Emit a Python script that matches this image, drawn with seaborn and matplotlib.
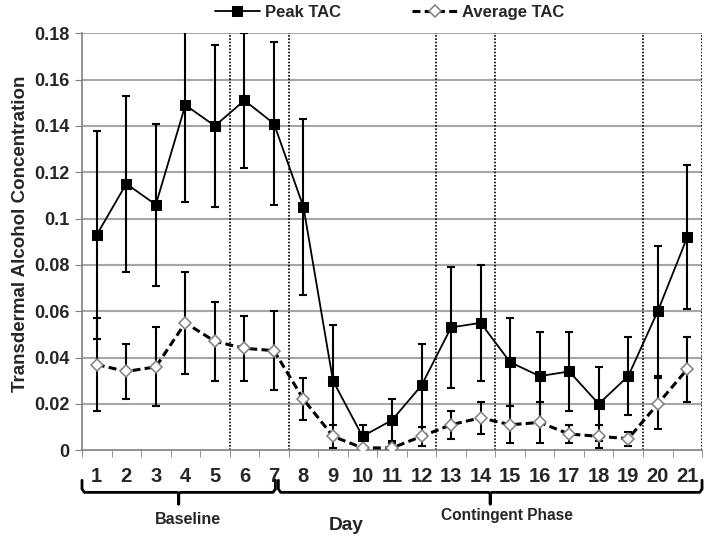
import matplotlib
matplotlib.use("Agg")
import matplotlib.pyplot as plt
import matplotlib.transforms as mtransforms
from matplotlib.ticker import FixedLocator, FuncFormatter
import numpy as np
import pandas as pd
import seaborn as sns

# Data
days = list(range(1, 22))
peak_tac = [0.093, 0.115, 0.106, 0.149, 0.140, 0.151, 0.141, 0.105, 0.030, 0.006, 0.013,
            0.028, 0.053, 0.055, 0.038, 0.032, 0.034, 0.020, 0.032, 0.060, 0.092]
peak_err = [0.045, 0.038, 0.035, 0.042, 0.035, 0.029, 0.035, 0.038, 0.024, 0.005, 0.009,
            0.018, 0.026, 0.025, 0.019, 0.019, 0.017, 0.016, 0.017, 0.028, 0.031]
avg_tac = [0.037, 0.034, 0.036, 0.055, 0.047, 0.044, 0.043, 0.022, 0.006, 0.001, 0.001,
           0.006, 0.011, 0.014, 0.011, 0.012, 0.007, 0.006, 0.005, 0.020, 0.035]
avg_err = [0.020, 0.012, 0.017, 0.022, 0.017, 0.014, 0.017, 0.009, 0.005, 0.001, 0.002,
           0.004, 0.006, 0.007, 0.008, 0.009, 0.004, 0.005, 0.003, 0.011, 0.014]
phase_breaks = [5.5, 7.5, 12.5, 14.5, 19.5, 21.5]
y_ticks = [0, 0.02, 0.04, 0.06, 0.08, 0.10, 0.12, 0.14, 0.16, 0.18]

df = pd.DataFrame({"Day": days, "Peak": peak_tac, "PeakErr": peak_err,
                   "Avg": avg_tac, "AvgErr": avg_err})

sns.set_style("white")
plt.rcParams["font.family"] = ["Liberation Sans", "DejaVu Sans"]
plt.rcParams["font.weight"] = "bold"

fig = plt.figure(figsize=(7.07, 5.36), dpi=100)
ax = fig.add_axes([0.116, 0.160, 0.877, 0.778])

# grid
for v in y_ticks[1:]:
    ax.axhline(v, color="#a6a6a6", lw=1.5, zorder=0)

# phase separators
for b in phase_breaks:
    ax.axvline(b, color="black", ls=(0, (1, 1)), lw=1.2, zorder=1)

# error bars
for col, err in [("Peak", "PeakErr"), ("Avg", "AvgErr")]:
    ax.errorbar(df["Day"], df[col], yerr=df[err], fmt="none", ecolor="black",
                elinewidth=1.5, capsize=3, capthick=1.5, zorder=2)

sns.lineplot(data=df, x="Day", y="Peak", ax=ax, color="black", lw=1.3,
             marker="s", markersize=6.5, markerfacecolor="black", markeredgecolor="black",
             label="Peak TAC", zorder=4)
sns.lineplot(data=df, x="Day", y="Avg", ax=ax, color="black", lw=2.2,
             linestyle=(0, (2.6, 1.4)), marker="D", markersize=6,
             markerfacecolor="white", markeredgecolor="#808080", markeredgewidth=1.1,
             label="Average TAC", zorder=3)

ax.set_xlim(0.5, 21.5)
ax.set_ylim(0, 0.18)
ax.yaxis.set_major_locator(FixedLocator(y_ticks))
ax.yaxis.set_major_formatter(FuncFormatter(lambda v, p: f"{v:g}"))
ax.set_xticks(days)
ax.set_xticklabels([str(d) for d in days])
ax.xaxis.set_minor_locator(FixedLocator(np.arange(0.5, 22, 1)))
ax.tick_params(axis="x", which="major", length=0, pad=12, labelsize=14.5)
ax.tick_params(axis="x", which="minor", length=5, color="#808080", direction="out")
ax.tick_params(axis="y", length=5, color="#808080", direction="out", labelsize=13, pad=4)
ax.xaxis.set_ticks_position("bottom")
ax.yaxis.set_ticks_position("left")
for lbl in ax.get_xticklabels() + ax.get_yticklabels():
    lbl.set_fontweight("bold")

for s in ["top", "right"]:
    ax.spines[s].set_visible(False)
for s in ["left", "bottom"]:
    ax.spines[s].set_color("#808080")
    ax.spines[s].set_linewidth(1.2)

ax.set_xlabel("")
ax.set_ylabel("Transdermal Alcohol Concentration", fontsize=13.5, fontweight="bold")
ax.yaxis.set_label_coords(-0.085, 0.52)

# braces below the axis
trans = mtransforms.blended_transform_factory(ax.transData, ax.transAxes)
def brace(x0, x1, top=-0.072, mid=-0.101, tip=-0.129):
    xc = (x0 + x1) / 2
    ax.plot([x0, x0, x0 + 0.08, xc - 0.05, xc, xc, xc, xc + 0.05, x1 - 0.08, x1, x1],
            [top, mid + 0.008, mid, mid, mid - 0.003, tip, mid - 0.003, mid, mid, mid + 0.008, top],
            transform=trans, color="black", lw=2, clip_on=False, solid_joinstyle="round")
    return xc

xc1 = brace(0.5, 7.05)
xc2 = brace(7.15, 21.5)
ax.text(xc1 + 0.3, -0.165, "Baseline", transform=trans, ha="center", va="center",
        fontsize=11.5, fontweight="bold")
ax.text(xc2 + 0.55, -0.157, "Contingent Phase", transform=trans, ha="center", va="center",
        fontsize=11.2, fontweight="bold")
ax.text(9.44, -0.18, "Day", transform=trans, ha="center", va="center",
        fontsize=13.8, fontweight="bold")

ax.get_legend().remove()
handles, labels = ax.get_legend_handles_labels()
fig.legend(handles, labels, loc="center", bbox_to_anchor=(0.551, 0.977), ncol=2,
           frameon=False, handlelength=2.7, handletextpad=0.3,
           columnspacing=4.3, prop={"weight": "bold", "size": 12})

fig.savefig("out.png", dpi=100)
